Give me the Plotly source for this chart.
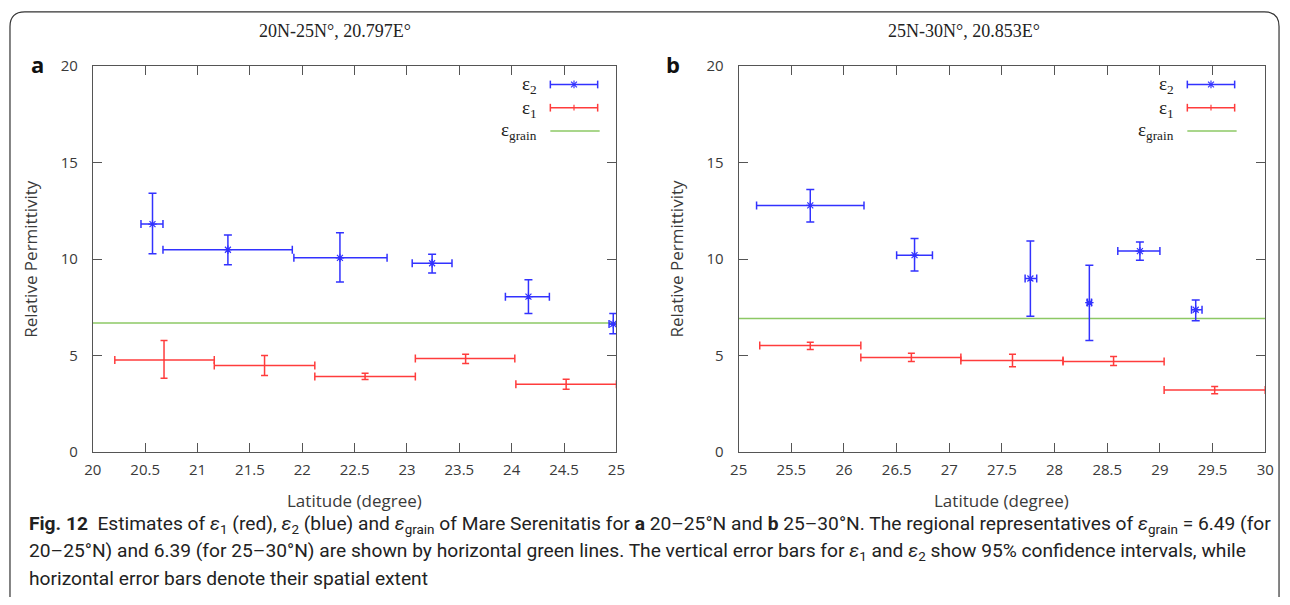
import plotly.graph_objects as go

# ---------------- data ----------------
a_e2_lat = [20.57, 21.29, 22.36, 23.24, 24.16, 24.97]
a_e2_val = [11.81, 10.48, 10.06, 9.78, 8.05, 6.63]
a_e2_lo = [10.27, 9.70, 8.81, 9.28, 7.17, 6.13]
a_e2_hi = [13.41, 11.24, 11.36, 10.25, 8.93, 7.17]
a_e2_west = [20.46, 20.67, 21.92, 23.05, 23.94, 24.93]
a_e2_east = [20.67, 21.905, 22.81, 23.43, 24.36, 25.01]

a_e1_lat = [20.68, 21.64, 22.60, 23.56, 24.52]
a_e1_val = [4.77, 4.48, 3.91, 4.84, 3.51]
a_e1_lo = [3.82, 3.96, 3.75, 4.58, 3.25]
a_e1_hi = [5.78, 5.00, 4.08, 5.07, 3.77]
a_e1_west = [20.21, 21.16, 22.12, 23.08, 24.04]
a_e1_east = [21.16, 22.12, 23.08, 24.03, 25.0]

a_grain = 6.68

b_e2_lat = [25.68, 26.67, 27.77, 28.33, 28.81, 29.34]
b_e2_val = [12.78, 10.20, 8.99, 7.74, 10.41, 7.37]
b_e2_lo = [11.92, 9.38, 7.03, 5.78, 9.94, 6.80]
b_e2_hi = [13.60, 11.07, 10.93, 9.68, 10.88, 7.88]
b_e2_west = [25.17, 26.50, 27.72, 28.31, 28.60, 29.30]
b_e2_east = [26.19, 26.84, 27.83, 28.35, 29.00, 29.40]

b_e1_lat = [25.68, 26.64, 27.60, 28.56, 29.52]
b_e1_val = [5.52, 4.90, 4.74, 4.69, 3.21]
b_e1_lo = [5.31, 4.69, 4.41, 4.48, 3.02]
b_e1_hi = [5.69, 5.11, 5.07, 4.95, 3.39]
b_e1_west = [25.20, 26.16, 27.11, 28.08, 29.04]
b_e1_east = [26.16, 27.11, 28.08, 29.04, 30.0]

b_grain = 6.92

a_xrange = [20, 25]
b_xrange = [25, 30]
y_range = [0, 20]
a_title = "20N-25N°, 20.797E°"
b_title = "25N-30N°, 20.853E°"

caption_lines = [
    "<b>Fig. 12</b>  Estimates of <i>ε</i><sub>1</sub> (red), <i>ε</i><sub>2</sub> (blue) and "
    "<i>ε</i><sub>grain</sub> of Mare Serenitatis for <b>a</b> 20–25°N and <b>b</b> 25–30°N. "
    "The regional representatives of <i>ε</i><sub>grain</sub> = 6.49 (for",
    "20–25°N) and 6.39 (for 25–30°N) are shown by horizontal green lines. The vertical error bars "
    "for <i>ε</i><sub>1</sub> and <i>ε</i><sub>2</sub> show 95% confidence intervals, while",
    "horizontal error bars denote their spatial extent",
]

# ---------------- styling ----------------
W, H = 1290, 605
BLUE = "rgb(50,50,255)"
RED = "rgb(255,60,60)"
GREEN = "rgb(140,200,100)"
FRAME = "#555555"
TXT = "#3a3a3a"
SANS = "Open Sans"
SERIF = "Liberation Serif"


def px(x):
    return x / W


def py(y):
    return 1 - y / H


fig = go.Figure()


def add_series(xa, ya, lat, val, lo, hi, west, east, color, marker, cw_y, cw_x):
    fig.add_trace(go.Scatter(
        x=lat, y=val, mode="markers", xaxis=xa, yaxis=ya, showlegend=False,
        marker=marker,
        error_y=dict(type="data", symmetric=False,
                     array=[h - v for h, v in zip(hi, val)],
                     arrayminus=[v - l for v, l in zip(val, lo)],
                     color=color, thickness=1.5, width=cw_y),
        error_x=dict(type="data", symmetric=False,
                     array=[e - c for e, c in zip(east, lat)],
                     arrayminus=[c - w for c, w in zip(lat, west)],
                     color=color, thickness=1.5, width=cw_x),
    ))


blue_marker = dict(symbol="asterisk-open", size=7, color=BLUE, line=dict(color=BLUE, width=1.2))
red_marker = dict(symbol="line-ns-open", size=1, color=RED, line=dict(color=RED, width=1))

panels = [
    ("x", "y", a_e2_lat, a_e2_val, a_e2_lo, a_e2_hi, a_e2_west, a_e2_east,
     a_e1_lat, a_e1_val, a_e1_lo, a_e1_hi, a_e1_west, a_e1_east, a_xrange, a_grain),
    ("x2", "y2", b_e2_lat, b_e2_val, b_e2_lo, b_e2_hi, b_e2_west, b_e2_east,
     b_e1_lat, b_e1_val, b_e1_lo, b_e1_hi, b_e1_west, b_e1_east, b_xrange, b_grain),
]
for (xa, ya, e2lat, e2v, e2lo, e2hi, e2w, e2e,
     e1lat, e1v, e1lo, e1hi, e1w, e1e, xr, g) in panels:
    fig.add_trace(go.Scatter(x=xr, y=[g, g], mode="lines", xaxis=xa, yaxis=ya,
                             line=dict(color=GREEN, width=1.5), showlegend=False))
    add_series(xa, ya, e1lat, e1v, e1lo, e1hi, e1w, e1e, RED, red_marker, 3.5, 4)
    add_series(xa, ya, e2lat, e2v, e2lo, e2hi, e2w, e2e, BLUE, blue_marker, 4, 4)

# plot areas in pixels
A_L, A_R = 85, 616
B_L, B_R = 740, 1274
P_T, P_B = 57, 456

axis_common = dict(
    showgrid=False, zeroline=False, showline=True, linecolor=FRAME, linewidth=1,
    mirror="ticks", ticks="inside", ticklen=9, tickcolor=FRAME, tickwidth=1,
    tickfont=dict(family=SANS, size=15, color=TXT),
)

fig.update_layout(
    width=W, height=H, margin=dict(l=0, r=0, t=0, b=0),
    paper_bgcolor="white", plot_bgcolor="white",
    xaxis=dict(domain=[px(A_L), px(A_R)], range=a_xrange, dtick=0.5, anchor="y",
               ticklabelstandoff=4, **axis_common),
    yaxis=dict(domain=[py(P_B), py(P_T)], range=y_range, dtick=5, anchor="x",
               ticklabelstandoff=11, **axis_common),
    xaxis2=dict(domain=[px(B_L), px(B_R)], range=b_xrange, dtick=0.5, anchor="y2",
                ticklabelstandoff=4, **axis_common),
    yaxis2=dict(domain=[py(P_B), py(P_T)], range=y_range, dtick=5, anchor="x2",
                ticklabelstandoff=11, **axis_common),
)

shapes = []
annotations = []

# outer rounded frame
r = 15
x0, y0, x1, y1 = 1, 1, 1288, 606
path = (f"M {px(x0)},{py(y1)} L {px(x0)},{py(y0 + r)} "
        f"Q {px(x0)},{py(y0)} {px(x0 + r)},{py(y0)} "
        f"L {px(x1 - r)},{py(y0)} Q {px(x1)},{py(y0)} {px(x1)},{py(y0 + r)} "
        f"L {px(x1)},{py(y1)}")
shapes.append(dict(type="path", path=path, xref="paper", yref="paper",
                   line=dict(color="#333333", width=1.2)))


def line(xa, ya, xb, yb, color, w=1.5):
    shapes.append(dict(type="line", xref="paper", yref="paper",
                       x0=px(xa), y0=py(ya), x1=px(xb), y1=py(yb),
                       line=dict(color=color, width=w)))


def text(x, y, s, size, family=SANS, color=TXT, xanchor="center", yanchor="middle", angle=0):
    annotations.append(dict(x=px(x), y=py(y), xref="paper", yref="paper", text=s,
                            showarrow=False, xanchor=xanchor, yanchor=yanchor,
                            textangle=angle, font=dict(family=family, size=size, color=color)))


panel_specs = [
    # (legend offset, L, R, title, title x, letter, letter x, y-title x)
    (0, A_L, A_R, a_title, 331, "a", 29, 21),
    (646, B_L, B_R, b_title, 969, "b", 673, 676),
]
for off, L, R, ttl, tx, lab, lx, yx in panel_specs:
    text(tx, 21, ttl, 18, family=SERIF, color="#222222")
    text(lx, 55, f"<b>{lab}</b>", 22, color="#111111")
    text(yx, (P_T + P_B) / 2, "Relative Permittivity", 17, angle=-90)
    text((L + R) / 2, 506, "Latitude (degree)", 17)
    # legend
    lx0, lx1, lxm = 549 + off, 597 + off, 573 + off
    ly2, ly1, lyg = 76, 100, 124
    tr = 538 + off
    text(tr, ly2 + 1, "ε<sub>2</sub>", 19, family=SERIF, color="#222222", xanchor="right")
    text(tr, ly1 + 1, "ε<sub>1</sub>", 19, family=SERIF, color="#222222", xanchor="right")
    text(tr, lyg, "ε<sub>grain</sub>", 19, family=SERIF, color="#222222", xanchor="right")
    line(lx0, ly2, lx1, ly2, BLUE)
    line(lx0, ly2 - 4, lx0, ly2 + 4, BLUE)
    line(lx1, ly2 - 4, lx1, ly2 + 4, BLUE)
    line(lxm - 3, ly2 - 3, lxm + 3, ly2 + 3, BLUE, 1.2)
    line(lxm - 3, ly2 + 3, lxm + 3, ly2 - 3, BLUE, 1.2)
    line(lxm, ly2 - 4, lxm, ly2 + 4, BLUE, 1.2)
    line(lx0, ly1, lx1, ly1, RED)
    line(lx0, ly1 - 4, lx0, ly1 + 4, RED)
    line(lx1, ly1 - 4, lx1, ly1 + 4, RED)
    line(lxm, ly1 - 3, lxm, ly1 + 3, RED, 1.2)
    line(lx0, lyg, lx1 + 2, lyg, GREEN)

# caption, one annotation per printed line
for i, cl in enumerate(caption_lines):
    text(18, 531 + 28 * i, cl, 19.2, family="Roboto", color="#222222", xanchor="left")

fig.update_layout(shapes=shapes, annotations=annotations)
fig.write_html("out.html")
